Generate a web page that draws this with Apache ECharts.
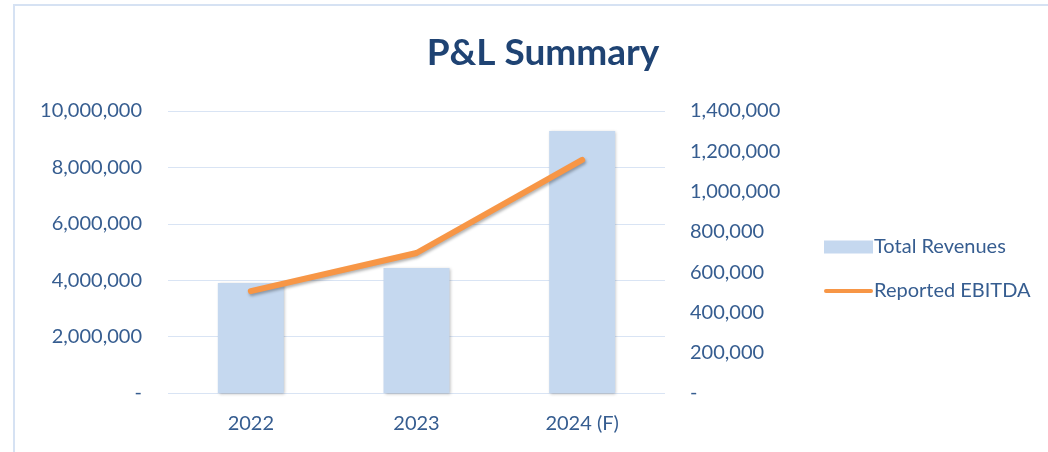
<!DOCTYPE html>
<html>
<head>
<meta charset="utf-8">
<script src="https://cdn.jsdelivr.net/npm/echarts@6/dist/echarts.min.js"></script>
<style>
  html, body { margin: 0; padding: 0; background: #fff; }
  #chart { width: 1048px; height: 452px; }
</style>
</head>
<body>
<div id="chart"></div>
<script>
var categories = ['2022', '2023', '2024 (F)'];
var revenues = [3900000, 4430000, 9290000];
var ebitda = [506000, 695000, 1157000];
var seriesNames = ['Total Revenues', 'Reported EBITDA'];

var textColor = '#365d90';
var fontFam = 'Lato, "Open Sans", sans-serif';

function fmt(v) {
    if (v === 0) return '-';
    return v.toLocaleString('en-US');
}

var myChart = echarts.init(document.getElementById('chart'));

option = {
    animation: false,
    title: {
        text: 'P&L Summary',
        left: 538,
        textAlign: 'center',
        top: 30,
        textStyle: {
            color: '#1f4373',
            fontSize: 37,
            fontWeight: 'bold',
            fontFamily: fontFam
        }
    },
    graphic: [{
        type: 'rect',
        shape: { x: 14, y: 5, width: 1100, height: 520 },
        style: { fill: 'none', stroke: '#d6e2f3', lineWidth: 2 },
        silent: true
    }],
    legend: {
        orient: 'vertical',
        left: 819,
        top: 232,
        itemWidth: 49,
        itemHeight: 13,
        itemGap: 24,
        textStyle: { color: textColor, fontSize: 20, fontFamily: fontFam, padding: [0, 0, 0, -4] },
        data: [
            { name: seriesNames[0], icon: 'rect' },
            { name: seriesNames[1], icon: 'path://M2,0 L48,0 A2,2 0 0 1 48,4 L2,4 A2,2 0 0 1 2,0 Z' }
        ]
    },
    grid: {
        left: 168,
        right: 383,
        top: 111,
        bottom: 59
    },
    xAxis: {
        type: 'category',
        data: categories,
        axisLine: { show: false },
        axisTick: { show: false },
        axisLabel: { color: textColor, fontSize: 20, fontFamily: fontFam, margin: 21 }
    },
    yAxis: [
        {
            type: 'value',
            min: 0,
            max: 10000000,
            interval: 2000000,
            axisLine: { show: false },
            axisTick: { show: false },
            splitLine: { lineStyle: { color: '#d9e4f4', width: 1 } },
            axisLabel: { color: textColor, fontSize: 20, fontFamily: fontFam, margin: 26, formatter: fmt }
        },
        {
            type: 'value',
            min: 0,
            max: 1400000,
            interval: 200000,
            position: 'right',
            axisLine: { show: false },
            axisTick: { show: false },
            splitLine: { show: false },
            axisLabel: { color: textColor, fontSize: 20, fontFamily: fontFam, margin: 25, formatter: fmt }
        }
    ],
    series: [
        {
            name: seriesNames[0],
            type: 'bar',
            data: revenues,
            barWidth: 66,
            itemStyle: {
                color: '#c5d8ef',
                shadowColor: 'rgba(0,0,0,0.25)',
                shadowBlur: 3,
                shadowOffsetX: 1,
                shadowOffsetY: 1
            }
        },
        {
            name: seriesNames[1],
            type: 'line',
            yAxisIndex: 1,
            data: ebitda,
            symbol: 'none',
            itemStyle: { color: '#f79646' },
            lineStyle: {
                color: '#f79646',
                width: 6,
                cap: 'round',
                shadowColor: 'rgba(0,0,0,0.3)',
                shadowBlur: 3,
                shadowOffsetX: 1,
                shadowOffsetY: 2
            },
            z: 3
        }
    ]
};
myChart.setOption(option);
</script>
</body>
</html>
